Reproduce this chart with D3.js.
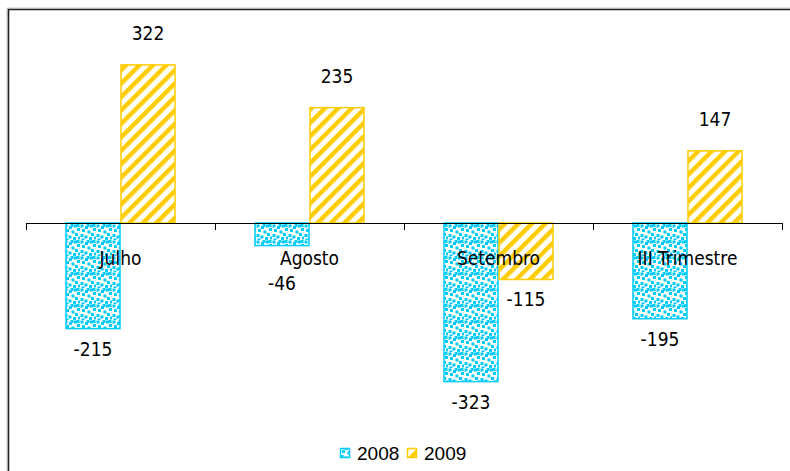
<!DOCTYPE html>
<html>
<head>
<meta charset="utf-8">
<script src="https://cdn.jsdelivr.net/npm/d3@7"></script>
<style>
  html, body { margin: 0; padding: 0; background: #fff; }
  svg { display: block; }
</style>
</head>
<body>
<svg id="chart" width="790" height="471"></svg>
<script>
// Monthly values, 2008 vs 2009
const categories = ["Julho", "Agosto", "Setembro", "III Trimestre"];
const seriesNames = ["2008", "2009"];
const values2008 = [-215, -46, -323, -195];
const values2009 = [322, 235, -115, 147];

const W = 790, H = 471;
const svg = d3.select("#chart");

const labelFont = "'DejaVu Sans Condensed', 'DejaVu Sans', sans-serif";
const legendFont = "'Liberation Sans', Arial, sans-serif";
const cyan = "#00CCFF", yellow = "#FFCC00";

// ---- fill patterns ----
const defs = svg.append("defs");

// confetti-style dots, staggered within a 16px tile
const dots = defs.append("pattern")
  .attr("id", "dots").attr("patternUnits", "userSpaceOnUse")
  .attr("width", 16).attr("height", 16);
dots.append("rect").attr("width", 16).attr("height", 16).attr("fill", "#fff");
[[0.5,0.5],[5,2],[10,0.5],[13,4],[2,5],[7.5,6.5],[11,9],[0.5,10],[4.5,11.5],[9,13],[14,12.5],[1.5,14.5],[6.5,16],[12.5,0]]
  .forEach(([x, y]) => dots.append("rect")
    .attr("x", x).attr("y", y % 16).attr("width", 3).attr("height", 3).attr("fill", cyan));

const stripes = defs.append("pattern")
  .attr("id", "stripes").attr("patternUnits", "userSpaceOnUse")
  .attr("width", 9.5).attr("height", 9.5)
  .attr("patternTransform", "rotate(45)");
stripes.append("rect").attr("width", 9.5).attr("height", 9.5).attr("fill", "#fff");
stripes.append("rect").attr("x", 0).attr("width", 4.4).attr("height", 9.5).attr("fill", yellow);

// ---- frame ----
svg.append("line").attr("x1", 7).attr("x2", W).attr("y1", 8).attr("y2", 8)
  .attr("stroke", "#c8c8c8").attr("stroke-width", 1);
svg.append("line").attr("x1", 7).attr("x2", 7).attr("y1", 8).attr("y2", H)
  .attr("stroke", "#c8c8c8").attr("stroke-width", 1);
svg.append("path").attr("d", `M8.5,${H} V9.5 H${W}`)
  .attr("fill", "none").attr("stroke", "#222").attr("stroke-width", 1.6);

// ---- scales ----
const x = d3.scaleBand().domain(categories).range([26, 782]).paddingInner(0).paddingOuter(0);
const y = d3.scaleLinear().domain([-400, 400]).range([419.4, 26.6]);
const barW = 55;
const zeroY = y(0);

const series = [
  { name: seriesNames[0], values: values2008, fill: "url(#dots)", stroke: cyan, off: -barW },
  { name: seriesNames[1], values: values2009, fill: "url(#stripes)", stroke: yellow, off: 0 }
];

// ---- bars ----
series.forEach(s => {
  svg.append("g").selectAll("rect").data(s.values).join("rect")
    .attr("x", (d, i) => x(categories[i]) + x.bandwidth() / 2 + s.off + 0.5)
    .attr("y", d => Math.min(y(d), zeroY))
    .attr("width", barW - 1)
    .attr("height", d => Math.abs(y(d) - zeroY))
    .attr("fill", s.fill)
    .attr("stroke", s.stroke)
    .attr("stroke-width", 1.5);
});

// ---- category axis at zero ----
const axis = svg.append("g");
axis.append("line").attr("x1", x.range()[0]).attr("x2", x.range()[1])
  .attr("y1", zeroY + 0.5).attr("y2", zeroY + 0.5).attr("stroke", "#000");
const tickXs = categories.map(c => x(c)).concat([x.range()[1]]);
axis.selectAll("line.tick").data(tickXs).join("line").attr("class", "tick")
  .attr("x1", d => Math.round(d) + 0.5).attr("x2", d => Math.round(d) + 0.5)
  .attr("y1", zeroY).attr("y2", zeroY + 7).attr("stroke", "#000");

const catLabelY = 265;
axis.selectAll("text").data(categories).join("text")
  .attr("x", d => x(d) + x.bandwidth() / 2)
  .attr("y", catLabelY)
  .attr("text-anchor", "middle")
  .attr("font-family", labelFont).attr("font-size", 19).attr("fill", "#000")
  .text(d => d);

// ---- value labels ----
series.forEach(s => {
  svg.append("g").selectAll("text").data(s.values).join("text")
    .attr("x", (d, i) => x(categories[i]) + x.bandwidth() / 2 + s.off + barW / 2)
    .attr("y", d => {
      if (d >= 0) return y(d) - 25;
      let base = y(d) + 27;
      // keep clear of the category labels under the axis
      if (base > catLabelY - 14 && base < catLabelY + 22) base = catLabelY + 25;
      return base;
    })
    .attr("text-anchor", "middle")
    .attr("font-family", labelFont).attr("font-size", 19).attr("fill", "#000")
    .text(d => d);
});

// ---- legend ----
const legend = svg.append("g").attr("transform", "translate(340,445)");
series.forEach((s, i) => {
  const g = legend.append("g").attr("transform", `translate(${i * 67},0)`);
  g.append("rect").attr("x", 0.5).attr("y", 3.5).attr("width", 9).attr("height", 9)
    .attr("fill", s.fill).attr("stroke", s.stroke).attr("stroke-width", 1.5);
  g.append("text").attr("x", 17).attr("y", 15)
    .attr("font-family", legendFont).attr("font-size", 19).attr("fill", "#000")
    .text(s.name);
});
</script>
</body>
</html>
